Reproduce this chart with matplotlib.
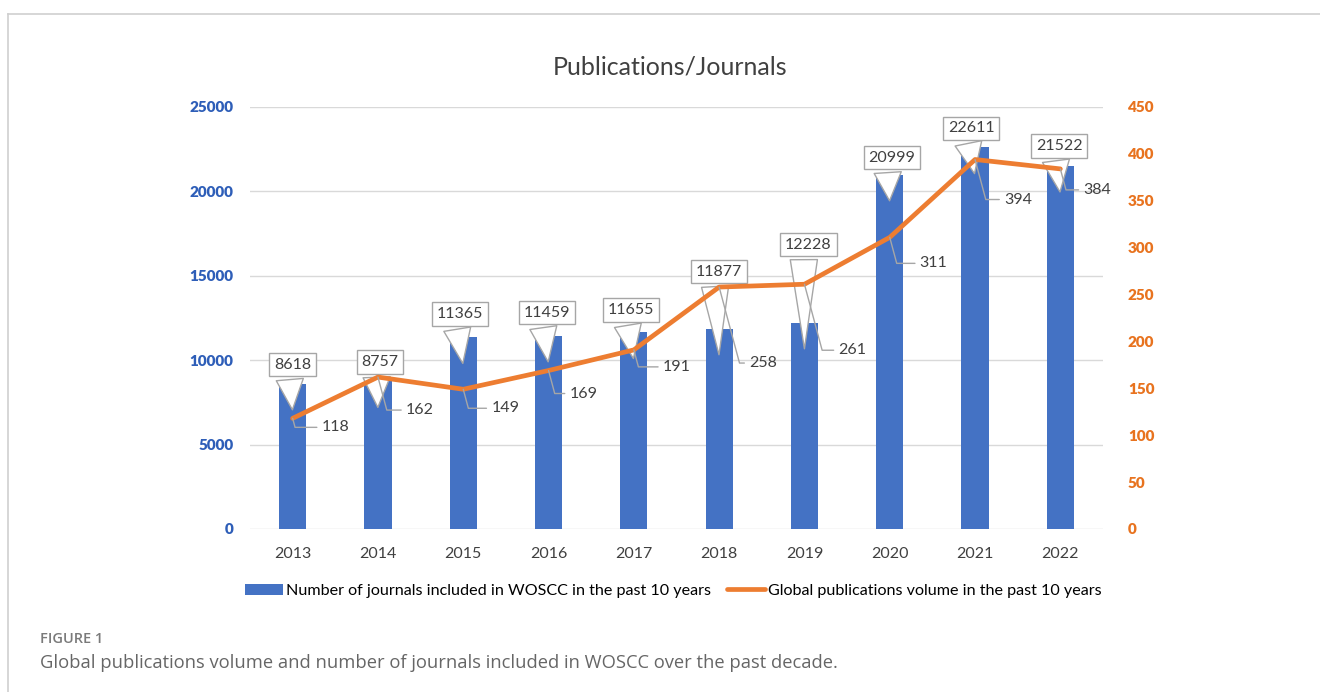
import matplotlib
matplotlib.use("Agg")
import matplotlib.pyplot as plt
from matplotlib.lines import Line2D
from matplotlib.transforms import offset_copy

years = ["2013", "2014", "2015", "2016", "2017", "2018", "2019", "2020", "2021", "2022"]
journals = [8618, 8757, 11365, 11459, 11655, 11877, 12228, 20999, 22611, 21522]
publications = [118, 162, 149, 169, 191, 258, 261, 311, 394, 384]
left_ticks = [0, 5000, 10000, 15000, 20000, 25000]
right_ticks = [0, 50, 100, 150, 200, 250, 300, 350, 400, 450]

# label layout (pixel offsets)
bar_box_off = [(0, 19), (2, 19), (-3, 23), (-2, 23), (-3, 22), (0, 57), (4, 78), (2, 17), (-4, 19), (-1, 20)]
line_lab_off = [(29, -9), (28, -33), (28, -19), (21, -23), (29, -17), (30, -76), (34, -66), (30, -26), (29, -40), (23, -21)]

BLUE = "#4472C4"
ORANGE = "#ED7D31"
TXT = "#404040"
FONT = "Lato"

W, H, DPI = 1320, 692, 100
fig = plt.figure(figsize=(W / DPI, H / DPI), dpi=DPI)
fig.patch.set_facecolor("white")

# outer frame lines
fig.add_artist(Line2D([8 / W, 1], [1 - 14 / H, 1 - 14 / H], color="#cfcfcf", lw=1.2))
fig.add_artist(Line2D([8 / W, 8 / W], [0, 1 - 14 / H], color="#cfcfcf", lw=1.2))

ax = fig.add_axes([250 / W, 1 - 529 / H, (1103 - 250) / W, (529 - 107) / H])
x = list(range(len(years)))
ax.bar(x, journals, width=0.32, color=BLUE, zorder=2,
       label="Number of journals included in WOSCC in the past 10 years")
ax.set_xlim(-0.5, len(years) - 0.5)
ax.set_ylim(0, 25000)
ax.set_yticks(left_ticks)
ax.set_xticks(x)
ax.set_xticklabels(years, fontsize=11.5, color=TXT, family=FONT)
for lab in ax.get_yticklabels():
    lab.set_color("#2E5EB8")
    lab.set_fontweight("heavy")
    lab.set_fontsize(11)
    lab.set_family(FONT)
ax.tick_params(axis="both", length=0)
ax.tick_params(axis="x", pad=13)
ax.tick_params(axis="y", pad=12)
ax.grid(axis="y", color="#d9d9d9", lw=1, zorder=0)
ax.set_axisbelow(True)
for s in ax.spines.values():
    s.set_visible(False)

ax2 = ax.twinx()
ax2.plot(x, publications, color=ORANGE, lw=3.4, zorder=3,
         label="Global publications volume in the past 10 years", solid_capstyle="round")
ax2.set_ylim(0, 450)
ax2.set_yticks(right_ticks)
for lab in ax2.get_yticklabels():
    lab.set_color("#E8731F")
    lab.set_fontweight("heavy")
    lab.set_fontsize(11)
    lab.set_family(FONT)
ax2.tick_params(axis="y", length=0, pad=18)
for s in ax2.spines.values():
    s.set_visible(False)

# bar callouts
tip_trans = offset_copy(ax.transData, fig=fig, x=0, y=-29, units="dots")
for i, v in enumerate(journals):
    dx, dy = bar_box_off[i]
    ax.annotate(str(v), xy=(i, v), xycoords=tip_trans,
                xytext=(dx, dy + 29), textcoords="offset pixels",
                ha="center", va="center", fontsize=11.5, color=TXT, family=FONT,
                bbox=dict(boxstyle="square,pad=0.3", fc="white", ec="#a6a6a6", lw=1),
                arrowprops=dict(arrowstyle="wedge,tail_width=1.7,shrink_factor=0.5",
                                fc="white", ec="#a6a6a6", lw=1, relpos=(0.4, 0.15)),
                zorder=4)

# line labels
for i, v in enumerate(publications):
    dx, dy = line_lab_off[i]
    ax2.annotate(str(v), xy=(i, v), xycoords="data",
                 xytext=(dx, dy), textcoords="offset pixels",
                 ha="left", va="center", fontsize=11.5, color=TXT, family=FONT,
                 bbox=dict(boxstyle="square,pad=0.3", fc="none", ec="none"),
                 arrowprops=dict(arrowstyle="-", color="#a6a6a6", lw=1,
                                 connectionstyle="angle,angleA=0,angleB=-75,rad=0",
                                 relpos=(0, 0.5), shrinkA=0, shrinkB=0),
                 zorder=5)

fig.text(670 / W, 1 - 67 / H, "Publications/Journals", ha="center", va="center",
         fontsize=18, color="#404040", family=FONT)

h1, l1 = ax.get_legend_handles_labels()
h2, l2 = ax2.get_legend_handles_labels()
fig.legend(h1 + h2, l1 + l2, loc="center", bbox_to_anchor=(673 / W, 1 - 591 / H),
           ncol=2, frameon=False, handlelength=2.4, handletextpad=0.15,
           columnspacing=1.0, prop=dict(family=FONT, size=11.6))

fig.text(40 / W, 1 - 639 / H, "FIGURE 1", ha="left", va="center",
         fontsize=10.5, color="#7a7a7a", family="Open Sans", fontweight="semibold")
fig.text(40 / W, 1 - 663 / H,
         "Global publications volume and number of journals included in WOSCC over the past decade.",
         ha="left", va="center", fontsize=13.2, color="#666666", family="Open Sans")

fig.savefig("out.png", dpi=DPI, facecolor="white")
